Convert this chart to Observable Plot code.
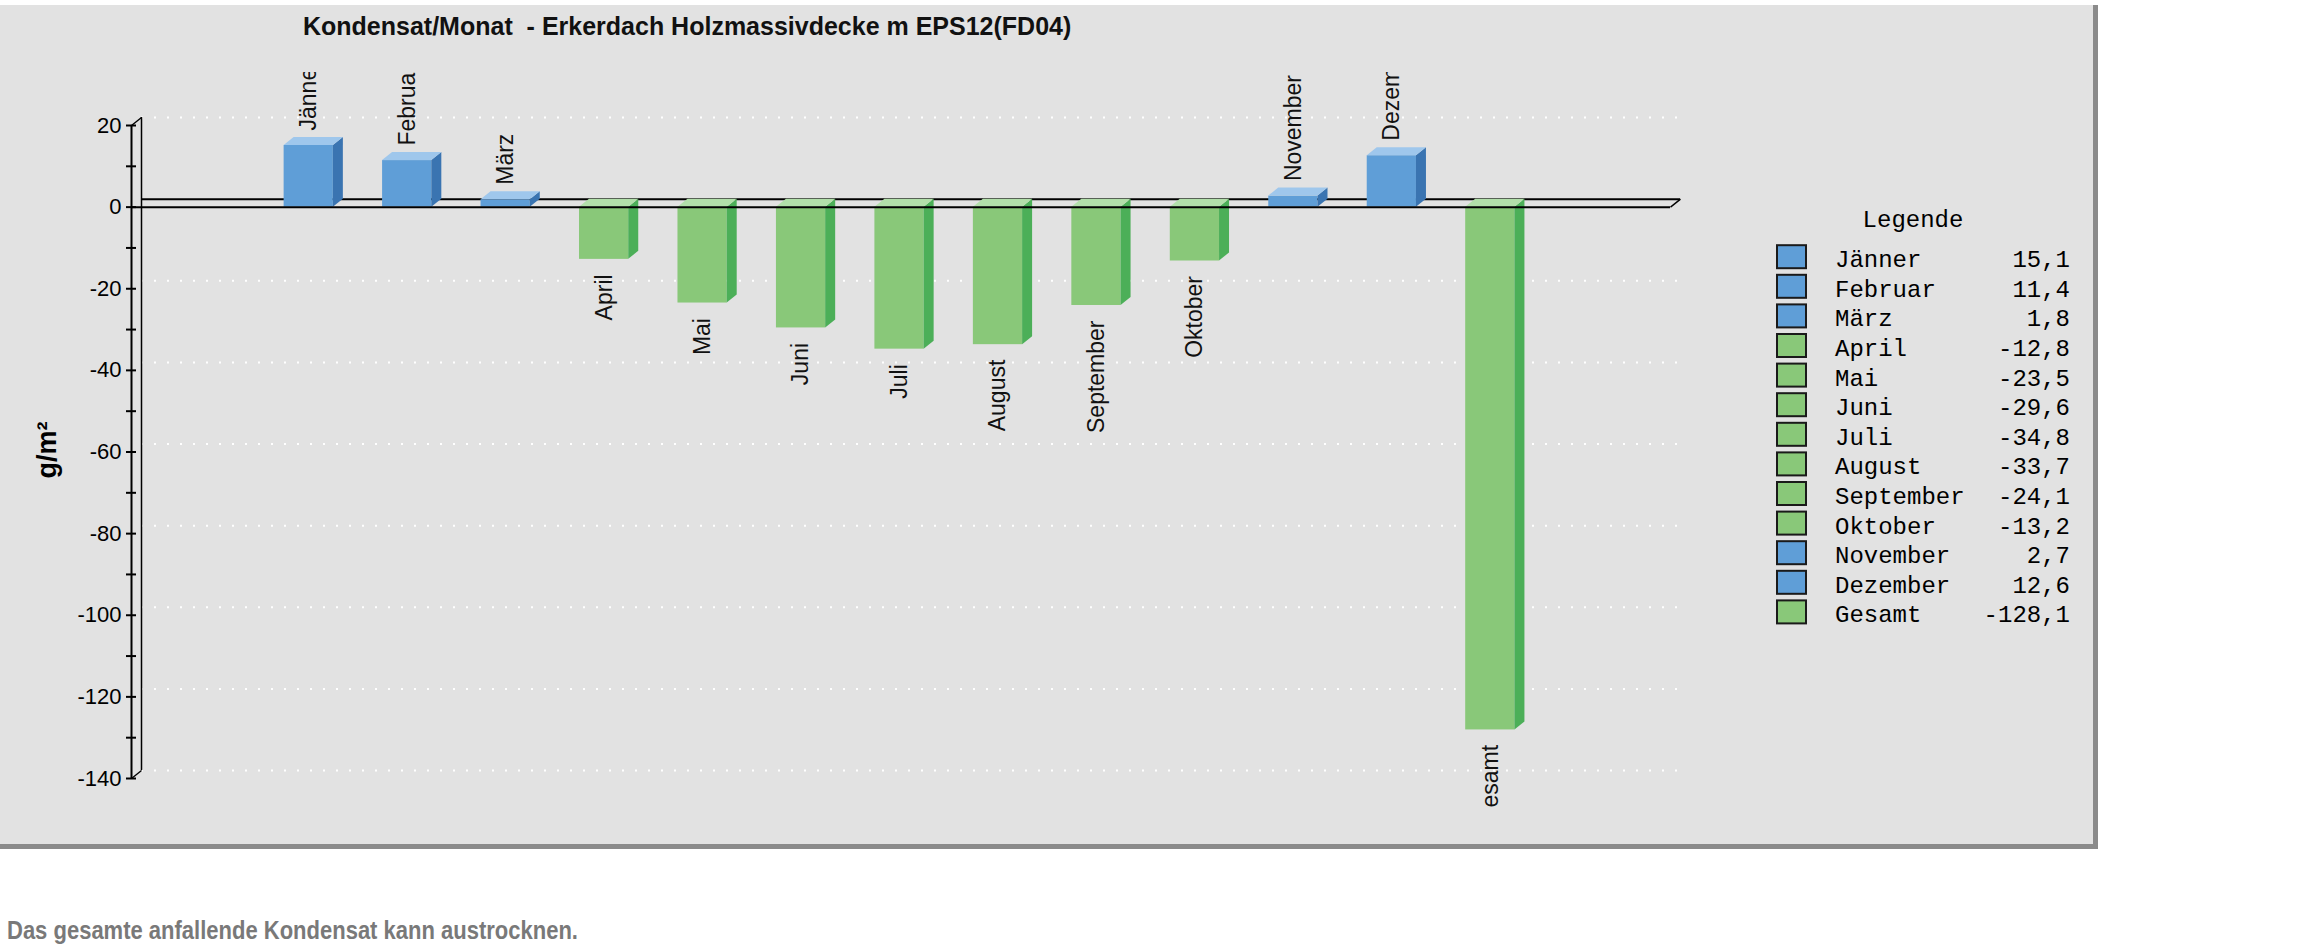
<!DOCTYPE html>
<html>
<head>
<meta charset="utf-8">
<script src="https://cdn.jsdelivr.net/npm/d3@7"></script>
<script src="https://cdn.jsdelivr.net/npm/@observablehq/plot@0.6"></script>
<style>
  html, body { margin: 0; padding: 0; background: #ffffff; }
  body { width: 2307px; height: 947px; overflow: hidden; position: relative;
         font-family: "Liberation Sans", Arial, sans-serif; }
  #panel { position: absolute; left: 0; top: 5px; width: 2093px; height: 839px;
           background: #e2e2e2; border-right: 5px solid #8b8b8b; border-bottom: 5px solid #8b8b8b; }
  #panel svg { position: absolute; left: 0; top: 0; }
  #caption { position: absolute; left: 7px; top: 918px; white-space: nowrap;
             font: bold 25px/25px "Liberation Sans", Arial, sans-serif; color: #797979;
             transform: scaleX(0.88); transform-origin: 0 0; }
</style>
</head>
<body>
<div id="panel"></div>
<div id="caption"></div>
<script>
// ---------------- data ----------------
const months = ["Jänner", "Februar", "März", "April", "Mai", "Juni", "Juli",
                "August", "September", "Oktober", "November", "Dezember", "Gesamt"];
const values = [15.1, 11.4, 1.8, -12.8, -23.5, -29.6, -34.8, -33.7, -24.1, -13.2, 2.7, 12.6, -128.1];
const yTickLabels = [20, 0, -20, -40, -60, -80, -100, -120, -140];
const yTickMarks = [20, 10, 0, -10, -20, -30, -40, -50, -60, -70, -80, -90, -100, -110, -120, -130, -140];
const gridValues = [20, -20, -40, -60, -80, -100, -120, -140];
const chartTitle = "Kondensat/Monat  - Erkerdach Holzmassivdecke m EPS12(FD04)";
const yLabel = "g/m²";
const legendTitle = "Legende";
const captionText = "Das gesamte anfallende Kondensat kann austrocknen.";

// ---------------- layout ----------------
const W = 2093, H = 839;
const frameLeft = 131, frameRight = 1670;
const yRange = [773, 120];
const yDomain = [-140, 20];
const xDomain = [-1.8, 13.83];
const halfW = 0.25;
const depthPxX = 10, depthPxY = 8;
const pxPerX = (frameRight - frameLeft) / (xDomain[1] - xDomain[0]);
const pxPerY = (yRange[0] - yRange[1]) / (yDomain[1] - yDomain[0]);
const dX = depthPxX / pxPerX, dY = depthPxY / pxPerY;

const pal = {
  pos: {front: "#5f9ed7", top: "#9fc7ec", side: "#3a74b1"},
  neg: {front: "#89c879", top: "#b2dfaa", side: "#4caf58"}
};

const data = months.map((m, i) => ({m, i, v: values[i], k: values[i] >= 0 ? "pos" : "neg"}));

const sidePts = data.flatMap(d => [
  {i: d.i, x: d.i + halfW, y1: 0, y2: d.v, c: pal[d.k].side},
  {i: d.i, x: d.i + halfW + dX, y1: dY, y2: d.v + dY, c: pal[d.k].side}
]);
const topPts = data.flatMap(d => {
  const base = d.v >= 0 ? d.v : 0;
  return [
    {i: d.i, y: base, x1: d.i - halfW, x2: d.i + halfW, c: pal[d.k].top},
    {i: d.i, y: base + dY, x1: d.i - halfW + dX, x2: d.i + halfW + dX, c: pal[d.k].top}
  ];
});
const slants = [
  {x1: xDomain[0], y1: yDomain[1], x2: xDomain[0] + dX, y2: yDomain[1] + dY},
  {x1: xDomain[0], y1: yDomain[0], x2: xDomain[0] + dX, y2: yDomain[0] + dY},
  {x1: xDomain[1], y1: 0, x2: xDomain[1] + dX, y2: dY}
];

const chart = Plot.plot({
  width: W, height: H,
  marginLeft: frameLeft, marginRight: W - frameRight, marginTop: 67, marginBottom: 35,
  style: {background: "transparent", fontFamily: "'Liberation Sans', Arial, sans-serif", fontSize: "22px", color: "#000", overflow: "visible"},
  x: {type: "linear", domain: xDomain, range: [frameLeft, frameRight], axis: null},
  y: {type: "linear", domain: yDomain, range: yRange},
  color: {type: "identity"},
  marks: [
    Plot.ruleY(gridValues, {y: d => d, dx: depthPxX, dy: -depthPxY, stroke: "#ffffff", strokeWidth: 2, strokeDasharray: "2 11"}),
    Plot.ruleY([0], {dx: depthPxX, dy: -depthPxY, stroke: "#000", strokeWidth: 2}),
    Plot.ruleX([xDomain[0]], {y1: yDomain[1], y2: yDomain[0], dx: depthPxX, dy: -depthPxY, stroke: "#000", strokeWidth: 1.5}),
    Plot.link(slants, {x1: "x1", y1: "y1", x2: "x2", y2: "y2", stroke: "#000", strokeWidth: 1.5}),
    Plot.rect(data, {x1: d => d.i - halfW, x2: d => d.i + halfW, y1: 0, y2: "v", fill: d => pal[d.k].front}),
    Plot.areaY(sidePts, {x: "x", y1: "y1", y2: "y2", z: "i", fill: "c"}),
    Plot.areaX(topPts, {y: "y", x1: "x1", x2: "x2", z: "i", fill: "c"}),
    Plot.ruleY([0], {stroke: "#000", strokeWidth: 2}),
    Plot.ruleX([xDomain[0]], {y1: yDomain[1], y2: yDomain[0], stroke: "#000", strokeWidth: 2}),
    Plot.tickY(yTickMarks, {y: d => d, insetRight: (frameRight - frameLeft) - 10, dx: -5, stroke: "#000", strokeWidth: 2}),
    Plot.axisY({ticks: yTickLabels, tickSize: 0, tickPadding: 10, tickFormat: d => String(d), label: null, fontSize: 22, fill: "#000"}),
    Plot.text(data.filter(d => d.v >= 0), {x: "i", y: "v", text: "m", rotate: -90, textAnchor: "start", dy: -15, fontSize: 23, fill: "#111", clip: "frame"}),
    Plot.text(data.filter(d => d.v < 0), {x: "i", y: "v", text: "m", rotate: -90, textAnchor: "end", dy: 15, fontSize: 23, fill: "#111", clip: "frame"})
  ]
});
const panel = document.getElementById("panel");
panel.appendChild(chart);

// ---------------- overlay: title, y label, legend ----------------
const ov = d3.select(panel).append("svg")
  .attr("width", W).attr("height", H)
  .style("overflow", "visible");

ov.append("text")
  .attr("x", 303).attr("y", 30)
  .attr("font-family", "'Liberation Sans', Arial, sans-serif")
  .attr("font-size", 25).attr("font-weight", "bold")
  .attr("fill", "#111")
  .style("white-space", "pre")
  .text(chartTitle);

ov.append("text")
  .attr("transform", "translate(56,445) rotate(-90)")
  .attr("text-anchor", "middle")
  .attr("font-family", "'Liberation Sans', Arial, sans-serif")
  .attr("font-size", 27).attr("font-weight", "bold")
  .attr("fill", "#000")
  .text(yLabel);

const mono = "'Liberation Mono', 'DejaVu Sans Mono', monospace";
ov.append("text")
  .attr("x", 1913).attr("y", 222)
  .attr("text-anchor", "middle")
  .attr("font-family", mono).attr("font-size", 24)
  .attr("fill", "#000")
  .text(legendTitle);

const fmt = v => v.toFixed(1).replace(".", ",");
const rows = ov.append("g").selectAll("g").data(data).join("g")
  .attr("transform", d => `translate(0,${251.7 + 29.6 * d.i})`);
rows.append("rect")
  .attr("x", 1777).attr("y", -11.5).attr("width", 29).attr("height", 23)
  .attr("fill", d => pal[d.k].front).attr("stroke", "#1a1a1a").attr("stroke-width", 2);
rows.append("text")
  .attr("x", 1835).attr("y", 10.5)
  .attr("font-family", mono).attr("font-size", 24).attr("fill", "#000")
  .text(d => d.m);
rows.append("text")
  .attr("x", 2070).attr("y", 10.5).attr("text-anchor", "end")
  .attr("font-family", mono).attr("font-size", 24).attr("fill", "#000")
  .text(d => fmt(d.v));

document.getElementById("caption").textContent = captionText;
</script>
</body>
</html>
